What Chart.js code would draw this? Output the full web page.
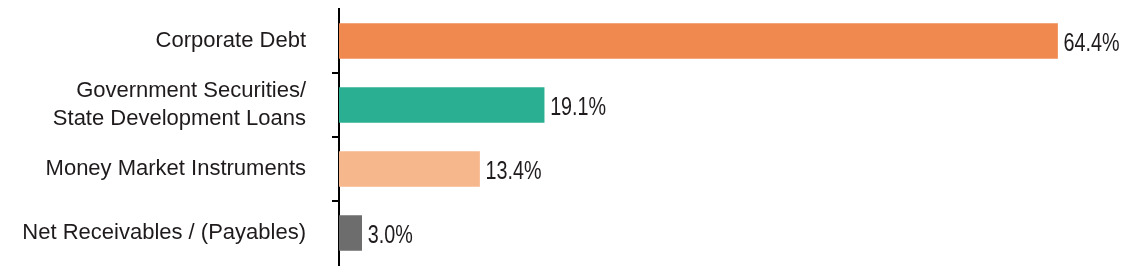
<!DOCTYPE html>
<html>
<head>
<meta charset="utf-8">
<script src="https://cdn.jsdelivr.net/npm/chart.js@4.4.1/dist/chart.umd.min.js"></script>
<style>
  html, body { margin: 0; padding: 0; background: #fff; }
  #wrap { width: 1142px; height: 277px; }
</style>
</head>
<body>
<div id="wrap"><canvas id="chart" width="1142" height="277"></canvas></div>
<script>
// values
const categories = [
    'Corporate Debt',
    ['Government Securities/', 'State Development Loans'],
    'Money Market Instruments',
    'Net Receivables / (Payables)'
];
const shares = [64.4, 19.1, 13.4, 3.0];
const barColors = ['#F08950', '#2BAF93', '#F6B78C', '#6D6D6D'];

const TEXT = '#1F1B1C';

// draws "64.4%" etc. just past the end of each bar (squeezed sideways, the source font is condensed)
const valueLabels = {
    id: 'valueLabels',
    afterDatasetsDraw(chart) {
        const ctx = chart.ctx;
        const meta = chart.getDatasetMeta(0);
        const sx = 0.76;
        ctx.save();
        ctx.font = '26px "Liberation Sans", Arial, sans-serif';
        ctx.fillStyle = TEXT;
        ctx.textAlign = 'left';
        ctx.textBaseline = 'middle';
        meta.data.forEach((bar, i) => {
            ctx.save();
            ctx.translate(bar.x + 6, bar.y + 3);
            ctx.scale(sx, 1);
            ctx.fillText(shares[i].toFixed(1) + '%', 0, 0);
            ctx.restore();
        });
        ctx.restore();
    }
};

new Chart(document.getElementById('chart'), {
    type: 'bar',
    data: {
        labels: categories,
        datasets: [{
            data: shares,
            backgroundColor: barColors,
            borderWidth: 0,
            barThickness: 35
        }]
    },
    options: {
        indexAxis: 'y',
        responsive: false,
        animation: false,
        layout: { padding: { top: 9, bottom: 12, right: 21, left: 0 } },
        plugins: {
            legend: { display: false },
            tooltip: { enabled: false }
        },
        scales: {
            x: {
                display: false,
                min: 1,
                max: 70
            },
            y: {
                afterFit: (s) => {
                    s.width = 339;
                    s.paddingTop = 0;
                    s.paddingBottom = 0;
                },
                border: { display: true, color: '#000', width: 2 },
                grid: {
                    offset: true,
                    drawOnChartArea: false,
                    drawTicks: true,
                    tickLength: 7,
                    lineWidth: 2,
                    // only the marks between categories, none at the ends
                    color: (c) => (c.type === 'tick' && c.index > 0) ? '#000' : 'rgba(0,0,0,0)'
                },
                ticks: {
                    padding: 26,
                    color: TEXT,
                    font: { family: '"Liberation Sans", Arial, sans-serif', size: 22, lineHeight: 1.27 }
                }
            }
        }
    },
    plugins: [valueLabels]
});
</script>
</body>
</html>
